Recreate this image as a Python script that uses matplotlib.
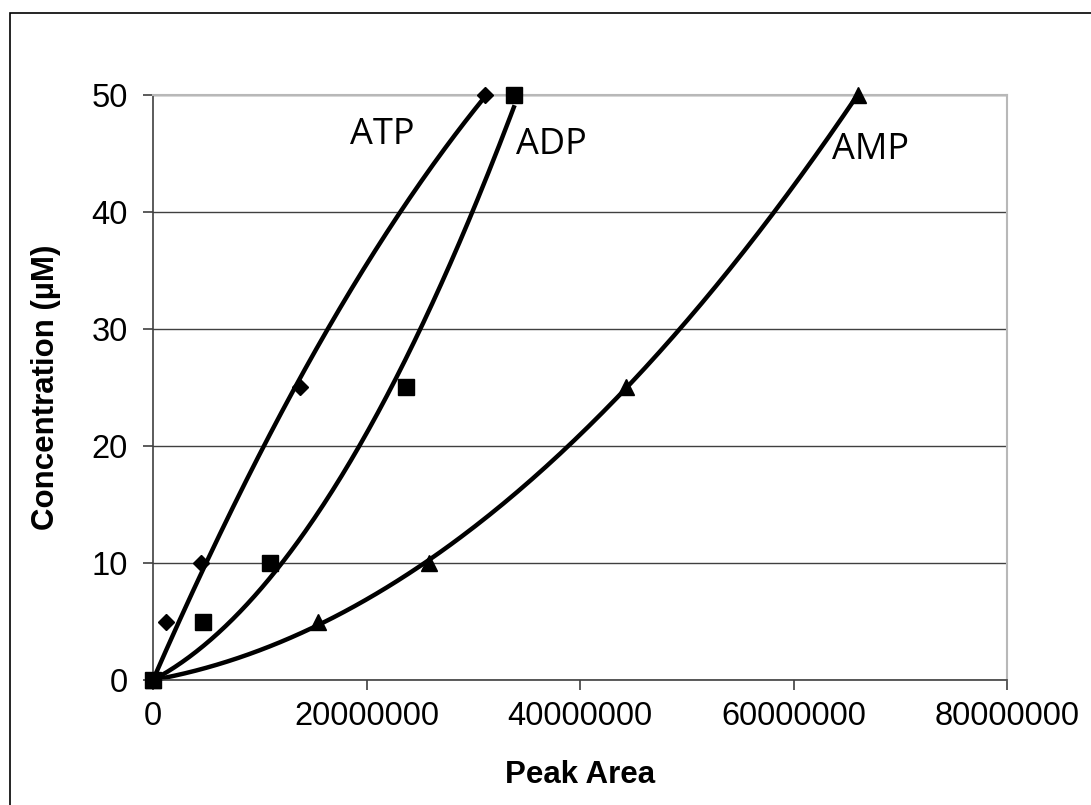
import numpy as np
import matplotlib.pyplot as plt
from matplotlib.patches import Rectangle

# concentration levels (uM)
conc = [0, 5, 10, 25, 50]

# peak areas
atp_area = [0, 1.2e6, 4.5e6, 13.8e6, 31.1e6]
adp_area = [0, 4.7e6, 11.0e6, 23.7e6, 33.8e6]
amp_area = [0, 15.5e6, 25.9e6, 44.3e6, 66.0e6]

series = [
    ("ATP", atp_area, "D", 8.5),
    ("ADP", adp_area, "s", 11),
    ("AMP", amp_area, "^", 11),
]
label_pos = {"ATP": (21.5e6, 46.6), "ADP": (37.3e6, 45.7), "AMP": (67.2e6, 45.3)}

fig = plt.figure(figsize=(10.91, 8.05), dpi=100)
fig.patch.set_facecolor("white")
# outer chart border (right/bottom run off the image)
fig.patches.append(Rectangle((10 / 1091, -0.1), 1.2, 0.1 + 792 / 805,
                             transform=fig.transFigure, fill=False,
                             edgecolor="black", linewidth=1.2))

ax = fig.add_axes([153 / 1091, 125 / 805, 854 / 1091, 585 / 805])

for name, area, mk, ms in series:
    x = np.array(area)
    y = np.array(conc)
    ax.plot(x, y, linestyle="none", marker=mk, markersize=ms, color="black",
            zorder=3, clip_on=False)
    # 2nd order polynomial trendline, intercept fixed at 0
    A = np.column_stack([x ** 2, x])
    coef, *_ = np.linalg.lstsq(A, y, rcond=None)
    xs = np.linspace(0, x.max(), 200)
    ax.plot(xs, coef[0] * xs ** 2 + coef[1] * xs, color="black", linewidth=3.2,
            zorder=2, clip_on=False)
    lx, ly = label_pos[name]
    ax.text(lx, ly, name, fontsize=26, family="Open Sans", ha="center",
            va="center")

ax.set_xlim(0, 80000000)
ax.set_ylim(0, 50)
ax.set_xticks([0, 20000000, 40000000, 60000000, 80000000])
ax.set_xticklabels(["0", "20000000", "40000000", "60000000", "80000000"])
ax.set_yticks([0, 10, 20, 30, 40, 50])
ax.yaxis.grid(True, color="#404040", linewidth=1)
ax.set_axisbelow(True)

for s in ["top", "right"]:
    ax.spines[s].set_color("#b8b8b8")
    ax.spines[s].set_linewidth(1.5)
for s in ["left", "bottom"]:
    ax.spines[s].set_color("#404040")
    ax.spines[s].set_linewidth(1.2)

ax.tick_params(direction="out", length=7, width=1.2, color="#404040",
               labelsize=23.5, pad=8)
ax.tick_params(axis="y", pad=11)
for lbl in ax.get_xticklabels() + ax.get_yticklabels():
    lbl.set_family("Liberation Sans")

ax.set_xlabel("Peak Area", fontsize=22.5, fontweight="bold",
              family="Liberation Sans", labelpad=20)
ax.set_ylabel("Concentration (\u00b5M)", fontsize=22.5, fontweight="bold",
              family="Liberation Sans", labelpad=22)

fig.savefig("out.png", dpi=100)
